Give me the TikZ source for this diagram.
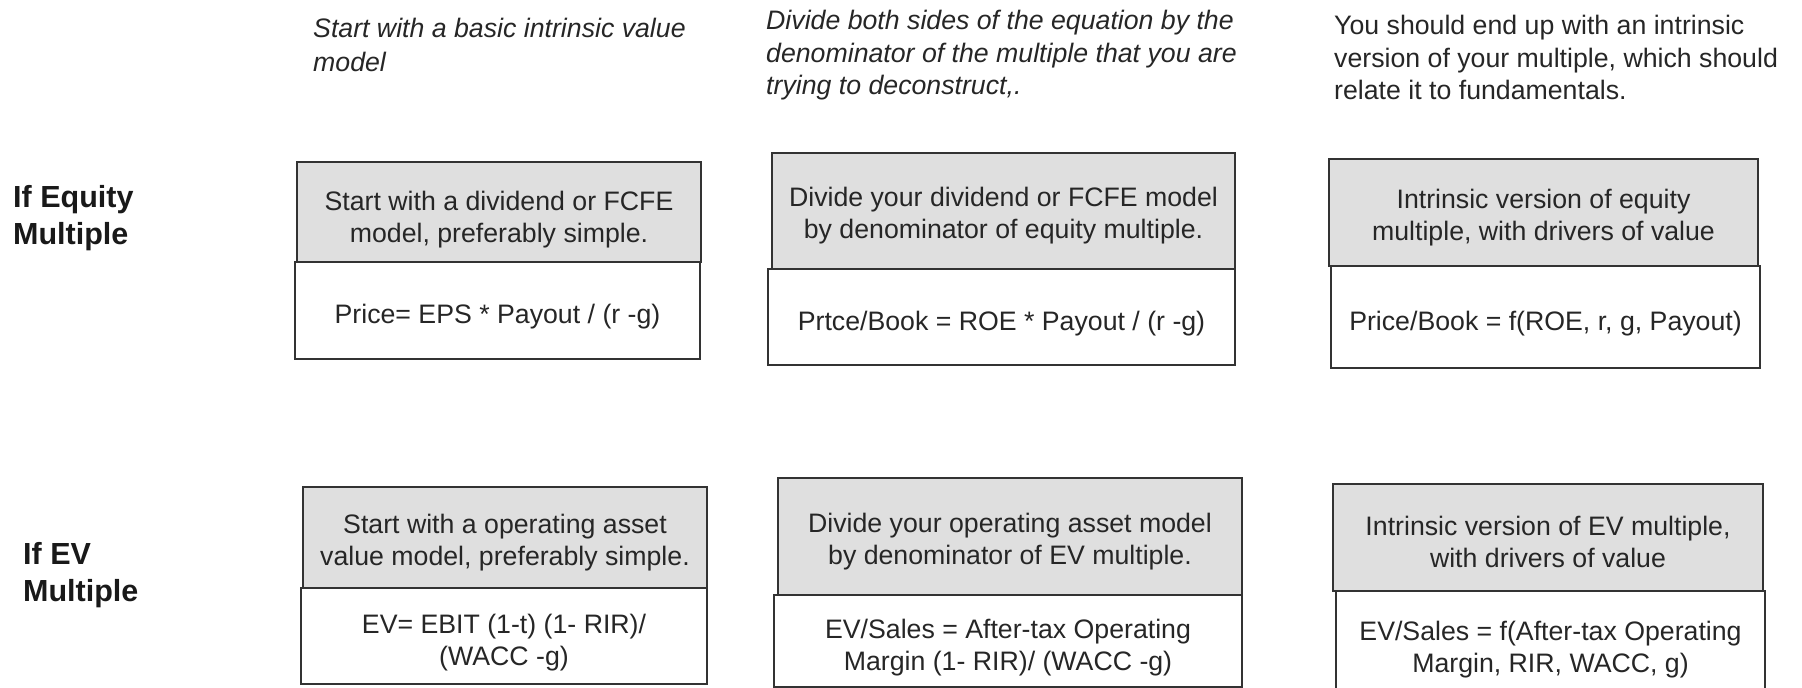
\documentclass[tikz,border=0pt]{standalone}
\usepackage{fontspec}
\setmainfont{Liberation Sans}
\definecolor{boxgray}{HTML}{DFDFDF}
\definecolor{txt}{HTML}{262626}
\definecolor{edge}{HTML}{333333}
\tikzset{
  part/.style={draw=edge, line width=2.2pt, inner sep=0pt},
  headbox/.style={part, fill=boxgray},
  bodybox/.style={part, fill=white},
  boxtext/.style={inner sep=0pt, align=center, text=txt,
    font=\fontsize{26.7}{32}\selectfont},
  caption/.style={anchor=west, align=left, text=txt, inner sep=0pt,
    font=\fontsize{26.7}{33}\selectfont},
  rowlabel/.style={anchor=west, align=left, text=black!90, inner sep=0pt,
    font=\fontsize{30.5}{37}\selectfont\bfseries},
}
\begin{document}
\begin{tikzpicture}[x=1pt,y=-1pt]
\useasboundingbox (0,0) rectangle (1802,688);
% captions
\node[caption, font=\fontsize{26.7}{34}\selectfont\itshape] (c1) at (313,45) {Start with a basic intrinsic value\\model};
\node[caption, font=\fontsize{26.7}{32.5}\selectfont\itshape] (c2) at (766,55.5) {Divide both sides of the equation by the\\denominator of the multiple that you are\\trying to deconstruct,.};
\node[caption, font=\fontsize{26.7}{32.5}\selectfont] (c3) at (1334,57.5) {You should end up with an intrinsic\\version of your multiple, which should\\relate it to fundamentals.};
% row labels
\node[rowlabel] (l1) at (13,218.5) {If Equity\\Multiple};
\node[rowlabel] (l2) at (23,575) {If EV\\Multiple};
% equity row boxes
\node[bodybox, minimum width=405pt, minimum height=97pt] (b1) at (497.5,310.5) {};
\node[headbox, minimum width=404pt, minimum height=100pt] (h1) at (499,212) {};
\node[bodybox, minimum width=467pt, minimum height=96pt] (b2) at (1001.5,317) {};
\node[headbox, minimum width=463pt, minimum height=116pt] (h2) at (1003.5,211) {};
\node[bodybox, minimum width=429pt, minimum height=102pt] (b3) at (1545.5,317) {};
\node[headbox, minimum width=429pt, minimum height=107pt] (h3) at (1543.5,212.5) {};
% EV row boxes
\node[bodybox, minimum width=406pt, minimum height=96pt] (b4) at (504,636) {};
\node[headbox, minimum width=404pt, minimum height=101pt] (h4) at (505,537.5) {};
\node[bodybox, minimum width=468pt, minimum height=92pt] (b5) at (1008,641) {};
\node[headbox, minimum width=464pt, minimum height=117pt] (h5) at (1010,536.5) {};
\node[bodybox, minimum width=429pt, minimum height=99pt] (b6) at (1550.5,640.5) {};
\node[headbox, minimum width=430pt, minimum height=107pt] (h6) at (1548,537.5) {};
% texts
\node[boxtext] (h1t) at ([yshift=-8pt]h1.center) {Start with a dividend or FCFE\\model, preferably simple.};
\node[boxtext] (b1t) at ([yshift=-6pt]b1.center) {Price= EPS * Payout / (r -g)};
\node[boxtext] (h2t) at ([yshift=-5pt]h2.center) {Divide your dividend or FCFE model\\by denominator of equity multiple.};
\node[boxtext] (b2t) at ([yshift=-7pt]b2.center) {Prtce/Book = ROE * Payout / (r -g)};
\node[boxtext] (h3t) at ([yshift=-5pt]h3.center) {Intrinsic version of equity\\multiple, with drivers of value};
\node[boxtext] (b3t) at ([yshift=-7pt]b3.center) {Price/Book = f(ROE, r, g, Payout)};
\node[boxtext] (h4t) at ([yshift=-5pt]h4.center) {Start with a operating asset\\value model, preferably simple.};
\node[boxtext] (b4t) at ([yshift=-7pt]b4.center) {EV= EBIT (1-t) (1- RIR)/\\(WACC -g)};
\node[boxtext] (h5t) at ([yshift=-5pt]h5.center) {Divide your operating asset model\\by denominator of EV multiple.};
\node[boxtext] (b5t) at ([yshift=-7pt]b5.center) {EV/Sales = After-tax Operating\\Margin (1- RIR)/ (WACC -g)};
\node[boxtext] (h6t) at ([yshift=-4pt]h6.center) {Intrinsic version of EV multiple,\\with drivers of value};
\node[boxtext] (b6t) at ([yshift=-9pt]b6.center) {EV/Sales = f(After-tax Operating\\Margin, RIR, WACC, g)};
\end{tikzpicture}
\end{document}
